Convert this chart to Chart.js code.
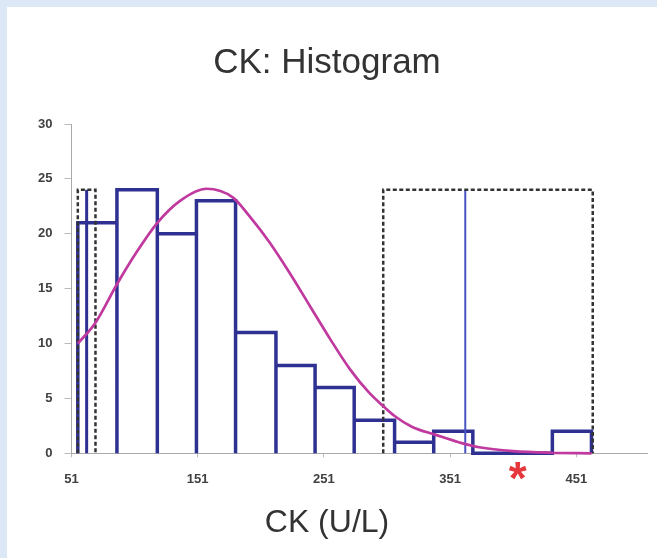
<!DOCTYPE html>
<html>
<head>
<meta charset="utf-8">
<title>CK: Histogram</title>
<script src="https://cdn.jsdelivr.net/npm/chart.js@4.4.0/dist/chart.umd.min.js"></script>
<style>
  html, body { margin: 0; padding: 0; }
  body { background: #dce8f5; width: 657px; height: 558px; overflow: hidden; position: relative; }
  #panel { position: absolute; left: 7px; top: 7px; width: 650px; height: 551px; background: #fff; }
</style>
</head>
<body>
<div id="panel"><canvas id="ckChart" width="650" height="551"></canvas></div>
<script>
// histogram bins (U/L) and their counts
const binEdges = [56, 87, 119, 150, 181, 213, 244, 275, 307, 338, 369, 401, 432, 463];
const binCounts = [21, 24, 20, 23, 11, 8, 6, 3, 1, 2, 0, 0, 2];

// fitted curve
const curveX = [56, 70, 87, 103, 119, 137, 158, 179, 192, 208, 224, 240, 256, 272, 287, 298, 307, 321, 339, 361, 374, 401, 430, 463];
const curveY = [10, 11.9, 15.4, 18.4, 21.0, 23.0, 24.1, 23.3, 21.6, 19.2, 16.4, 13.4, 10.4, 7.6, 5.5, 4.3, 3.4, 2.4, 1.7, 0.9, 0.55, 0.2, 0.05, 0];

// dashed boxes, marker lines and the outlier star
const leftBox = [56, 70];
const rightBox = [298, 464];
const boxTop = 24;
const leftLineX = 63;
const rightLineX = 363;
const outlierX = 404.5;

const xTicks = [51, 151, 251, 351, 451];
const xMin = 51;
const xMax = 507;
const yMin = 0;
const yMax = 30;
const yStep = 5;

function histogramOutline() {
    const pts = [{x: binEdges[0], y: 0}];
    for (let i = 0; i < binCounts.length; i++) {
        pts.push({x: binEdges[i], y: binCounts[i]});
        pts.push({x: binEdges[i + 1], y: binCounts[i]});
        pts.push({x: binEdges[i + 1], y: 0});
    }
    return pts;
}

function boxOutline(box) {
    return [
        {x: box[0], y: 0},
        {x: box[0], y: boxTop},
        {x: box[1], y: boxTop},
        {x: box[1], y: 0}
    ];
}

function vLine(x) {
    return [{x: x, y: 0}, {x: x, y: boxTop}];
}

const curvePoints = curveX.map((x, i) => ({x: x, y: curveY[i]}));

// red asterisk under the axis
const outlierMark = {
    id: 'outlierMark',
    afterDatasetsDraw(chart) {
        const ctx = chart.ctx;
        const x = chart.scales.x.getPixelForValue(outlierX);
        const cy = chart.chartArea.bottom + 19.5;
        const size = 46;
        ctx.save();
        ctx.fillStyle = '#e6383c';
        ctx.font = 'bold ' + size + 'px "Liberation Sans", Arial, sans-serif';
        ctx.textAlign = 'center';
        ctx.textBaseline = 'alphabetic';
        ctx.fillText('*', x, cy + size * 0.46);
        ctx.restore();
    }
};

const tickFont = {family: "'Liberation Sans', Arial, sans-serif", size: 13, weight: 'bold'};

new Chart(document.getElementById('ckChart'), {
    type: 'scatter',
    data: {
        datasets: [
            {
                label: 'curve',
                data: curvePoints,
                showLine: true,
                borderColor: '#c0399f',
                borderWidth: 2.7,
                cubicInterpolationMode: 'monotone',
                pointRadius: 0,
                clip: false,
                order: 0
            },
            {
                label: 'left box',
                data: boxOutline(leftBox),
                showLine: true,
                borderColor: '#333333',
                borderWidth: 2.5,
                borderDash: [4, 2.5],
                pointRadius: 0,
                clip: false,
                order: 1
            },
            {
                label: 'right box',
                data: boxOutline(rightBox),
                showLine: true,
                borderColor: '#333333',
                borderWidth: 2.5,
                borderDash: [4, 2.5],
                pointRadius: 0,
                clip: false,
                order: 1
            },
            {
                label: 'left line',
                data: vLine(leftLineX),
                showLine: true,
                borderColor: '#2e3192',
                borderWidth: 3,
                pointRadius: 0,
                clip: false,
                order: 2
            },
            {
                label: 'right line',
                data: vLine(rightLineX),
                showLine: true,
                borderColor: '#4a55c2',
                borderWidth: 2,
                pointRadius: 0,
                clip: false,
                order: 2
            },
            {
                label: 'CK',
                data: histogramOutline(),
                showLine: true,
                borderColor: '#2e3192',
                borderWidth: 3.5,
                borderJoinStyle: 'miter',
                pointRadius: 0,
                clip: false,
                order: 3
            }
        ]
    },
    options: {
        responsive: false,
        animation: false,
        layout: {padding: {left: 0, right: 10, top: 0, bottom: 0}},
        plugins: {
            legend: {display: false},
            tooltip: {enabled: false},
            title: {
                display: true,
                text: 'CK: Histogram',
                color: '#333333',
                font: {family: "'Liberation Sans', Arial, sans-serif", size: 35, weight: 'normal'},
                padding: {top: 35.7, bottom: 39.3}
            },
            // x axis title, centred on the whole panel like the original
            subtitle: {
                display: true,
                position: 'bottom',
                text: 'CK (U/L)',
                color: '#333333',
                font: {family: "'Liberation Sans', Arial, sans-serif", size: 32, weight: 'normal'},
                padding: {top: 0, bottom: 16}
            }
        },
        scales: {
            x: {
                type: 'linear',
                min: xMin,
                max: xMax,
                afterBuildTicks: scale => {
                    scale.ticks = xTicks.map(v => ({value: v}));
                },
                afterFit: scale => { scale.height = 50.3; },
                grid: {drawOnChartArea: false, drawTicks: true, tickLength: 4, color: '#bbbbbb'},
                border: {display: true, color: '#aaaaaa', width: 1},
                ticks: {color: '#404040', font: tickFont, padding: 14, maxRotation: 0}
            },
            y: {
                min: yMin,
                max: yMax,
                ticks: {stepSize: yStep, color: '#404040', font: tickFont, padding: 12},
                afterFit: scale => { scale.width = 64.5; },
                grid: {drawOnChartArea: false, drawTicks: true, tickLength: 7, color: '#bbbbbb'},
                border: {display: true, color: '#aaaaaa', width: 1}
            }
        }
    },
    plugins: [outlierMark]
});
</script>
</body>
</html>
